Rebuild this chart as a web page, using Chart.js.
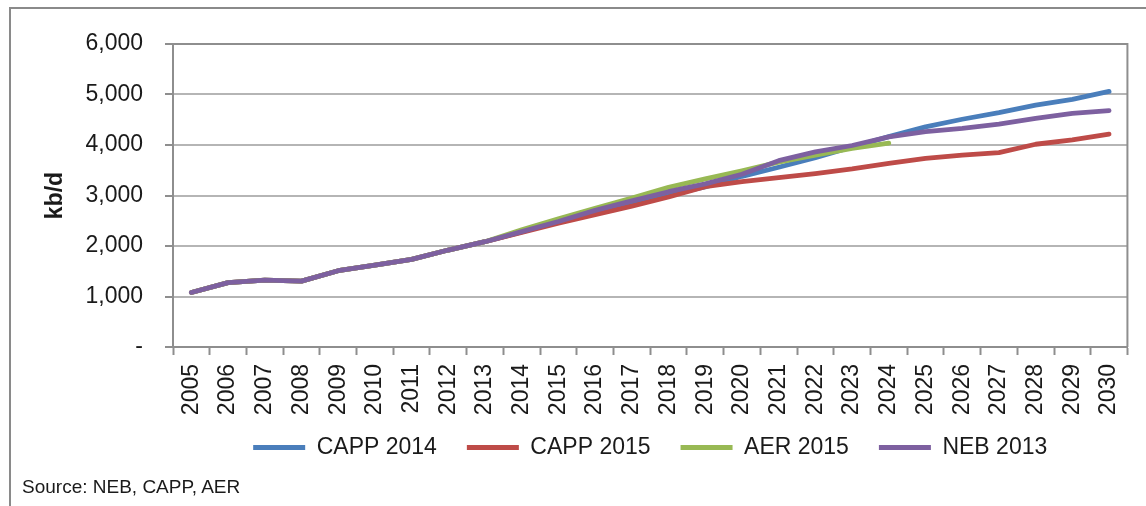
<!DOCTYPE html>
<html>
<head>
<meta charset="utf-8">
<script src="https://cdn.jsdelivr.net/npm/chart.js@4/dist/chart.umd.min.js"></script>
<style>
  html, body { margin: 0; padding: 0; background: #fff; }
  #wrap { position: relative; width: 1146px; height: 506px; overflow: hidden; }
  #source {
    position: absolute; left: 22px; top: 476px;
    font: 19px "Liberation Sans", Arial, sans-serif; color: #1a1a1a;
  }
</style>
</head>
<body>
<div id="wrap">
  <canvas id="chart" width="1146" height="506"></canvas>
  <div id="source">Source: NEB, CAPP, AER</div>
</div>
<script>
// ── DATA ──────────────────────────────────────────────
const years = ["2005","2006","2007","2008","2009","2010","2011","2012","2013",
  "2014","2015","2016","2017","2018","2019","2020","2021","2022","2023",
  "2024","2025","2026","2027","2028","2029","2030"];

const capp2014 = [1080,1275,1325,1305,1510,1620,1735,1920,2085,
  2280,2480,2690,2870,3010,3170,3380,3560,3750,3960,4165,4360,4510,4640,4790,4905,5060];
const capp2015 = [1080,1275,1325,1305,1510,1620,1735,1920,2085,
  2270,2450,2620,2790,2970,3175,3275,3355,3435,3525,3635,3735,3800,3850,4015,4100,4215];
const aer2015  = [1080,1275,1325,1305,1510,1620,1735,1920,2085,
  2320,2540,2745,2950,3160,3330,3490,3660,3800,3935,4035,null,null,null,null,null,null];
const neb2013  = [1080,1275,1325,1305,1510,1620,1735,1920,2085,
  2285,2485,2705,2893,3075,3230,3420,3690,3865,3990,4160,4265,4330,4415,4525,4625,4680];

const yTicks = [0, 1000, 2000, 3000, 4000, 5000, 6000];

// ── STYLE ─────────────────────────────────────────────
const FONT = "'Liberation Sans', Arial, sans-serif";
const GRID = "#b5b5b5";
const AXIS = "#8e8e8e";

function series(label, data, color, order) {
  return {
    label, data, order,
    borderColor: color,
    backgroundColor: color,
    borderWidth: 4.8,
    pointRadius: 0,
    tension: 0,
    fill: false,
    spanGaps: false,
    borderCapStyle: "round",
    borderJoinStyle: "round"
  };
}

// outer frame + plot border
const framePlugin = {
  id: "frame",
  beforeDraw(chart) {
    const { ctx } = chart;
    ctx.save();
    ctx.fillStyle = "#fff";
    ctx.fillRect(0, 0, chart.width, chart.height);
    ctx.strokeStyle = "#8a8a8a";
    ctx.lineWidth = 2;
    ctx.beginPath();
    ctx.moveTo(10, chart.height);
    ctx.lineTo(10, 8);
    ctx.lineTo(chart.width, 8);
    ctx.stroke();
    ctx.restore();
  },
  afterDatasetsDraw(chart) {
    const { ctx, chartArea: a } = chart;
    ctx.save();
    ctx.strokeStyle = AXIS;
    ctx.lineWidth = 2;
    ctx.beginPath();
    ctx.moveTo(a.left, a.top);
    ctx.lineTo(a.right, a.top);
    ctx.lineTo(a.right, a.bottom);
    ctx.stroke();
    ctx.restore();
  }
};

// pull the legend up a little so it sits closer to the year labels
const legendShift = {
  id: "legendShift",
  afterLayout(chart) {
    chart.legend.top -= 13;
    chart.legend.bottom -= 13;
  }
};

new Chart(document.getElementById("chart"), {
  type: "line",
  data: {
    labels: years,
    datasets: [
      series("CAPP 2014", capp2014, "#4a7ebb", 3),
      series("CAPP 2015", capp2015, "#be4b48", 2),
      series("AER 2015",  aer2015,  "#98b954", 1),
      series("NEB 2013",  neb2013,  "#7d60a0", 0)
    ]
  },
  options: {
    responsive: false,
    animation: false,
    layout: { padding: { left: 0, top: 44, right: 17, bottom: 24 } },
    plugins: {
      tooltip: { enabled: false },
      legend: {
        position: "bottom",
        fullSize: false,
        labels: {
          color: "#1a1a1a",
          font: { family: FONT, size: 23 },
          boxWidth: 52,
          boxHeight: 5,
          padding: 30,
          generateLabels(chart) {
            return chart.data.datasets.map((ds, i) => ({
              text: ds.label,
              fillStyle: ds.borderColor,
              strokeStyle: ds.borderColor,
              lineWidth: 0,
              hidden: false,
              datasetIndex: i,
              fontColor: "#1a1a1a"
            }));
          }
        }
      }
    },
    scales: {
      x: {
        offset: true,
        grid: {
          offset: true,
          drawOnChartArea: false,
          drawTicks: true,
          tickLength: 8,
          tickColor: AXIS,
          tickWidth: 2
        },
        border: { color: AXIS, width: 2 },
        ticks: {
          autoSkip: false,
          minRotation: 90,
          maxRotation: 90,
          padding: 9,
          color: "#1a1a1a",
          font: { family: FONT, size: 23 }
        },
        afterFit(scale) { scale.height = 72; }
      },
      y: {
        min: 0,
        max: 6000,
        afterBuildTicks(scale) { scale.ticks = yTicks.map(v => ({ value: v })); },
        grid: {
          color: GRID,
          lineWidth: 2,
          tickLength: 8,
          tickColor: AXIS,
          tickWidth: 2
        },
        border: { color: AXIS, width: 2 },
        ticks: {
          padding: 22,
          color: "#1a1a1a",
          font: { family: FONT, size: 23 },
          callback: v => v === 0 ? "-" : v.toLocaleString("en-US")
        },
        title: {
          display: true,
          text: "kb/d",
          color: "#1a1a1a",
          font: { family: FONT, size: 23, weight: "bold" },
          padding: { top: 42, bottom: 0 }
        },
        afterFit(scale) { scale.width = 173; }
      }
    }
  },
  plugins: [framePlugin, legendShift]
});
</script>
</body>
</html>
